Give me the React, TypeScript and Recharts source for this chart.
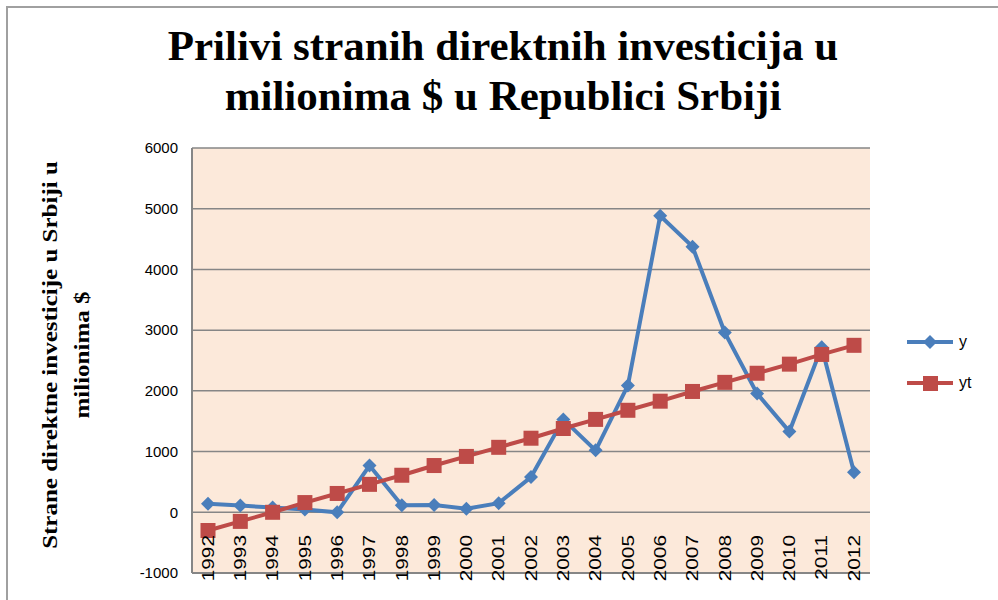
import { CartesianGrid, Line, LineChart, XAxis, YAxis } from "recharts"

const years = [
  "1992", "1993", "1994", "1995", "1996", "1997", "1998", "1999", "2000", "2001", "2002",
  "2003", "2004", "2005", "2006", "2007", "2008", "2009", "2010", "2011", "2012",
]

// stvarni prilivi
const yValues = [
  140, 110, 80, 45, 0, 770, 115, 120, 60, 150, 580,
  1530, 1020, 2090, 4885, 4375, 2960, 1955, 1330, 2720, 660,
]

// linearni trend
const ytValues = [
  -300, -150, 0, 160, 310, 460, 610, 770, 920, 1070, 1220,
  1380, 1530, 1680, 1830, 1990, 2140, 2290, 2440, 2600, 2750,
]

const yTicks = [-1000, 0, 1000, 2000, 3000, 4000, 5000, 6000]

const data = years.map((year, i) => ({ year, y: yValues[i], yt: ytValues[i] }))

const BLUE = "#4A7EBB"
const RED = "#BE4B48"

const Diamond = (props: any) => {
  const { cx, cy, index } = props
  if (cx == null || cy == null) return null
  const r = 7
  return (
    <polygon
      key={`d-${index}`}
      points={`${cx},${cy - r} ${cx + r},${cy} ${cx},${cy + r} ${cx - r},${cy}`}
      fill={BLUE}
    />
  )
}

const Square = (props: any) => {
  const { cx, cy, index } = props
  if (cx == null || cy == null) return null
  const s = 15
  return <rect key={`s-${index}`} x={cx - s / 2} y={cy - s / 2} width={s} height={s} fill={RED} />
}

// oznake godina stoje odmah ispod nulte linije, kao u Excelu
const YearTick = (props: any) => {
  const { x, y, payload } = props
  return (
    <text
      transform={`translate(${x},${y - 40}) rotate(-90) scale(1.3,1)`}
      textAnchor="end"
      dy="0.36em"
      fontSize={16}
      fontFamily="Liberation Sans, Arial, sans-serif"
      fill="#000"
    >
      {payload.value}
    </text>
  )
}

const LegendBox = () => (
  <div
    style={{
      position: "absolute",
      left: 905,
      top: 321,
      fontFamily: "Liberation Sans, Arial, sans-serif",
      fontSize: 16,
      color: "#000",
    }}
  >
    <div style={{ display: "flex", alignItems: "center", height: 41 }}>
      <svg width={50} height={20}>
        <line x1={2} y1={10} x2={48} y2={10} stroke={BLUE} strokeWidth={4} />
        <polygon points="25,3 32,10 25,17 18,10" fill={BLUE} />
      </svg>
      <span style={{ marginLeft: 4 }}>y</span>
    </div>
    <div style={{ display: "flex", alignItems: "center", height: 41 }}>
      <svg width={50} height={20}>
        <line x1={2} y1={10} x2={48} y2={10} stroke={RED} strokeWidth={4} />
        <rect x={18} y={3} width={15} height={15} fill={RED} />
      </svg>
      <span style={{ marginLeft: 4 }}>yt</span>
    </div>
  </div>
)

export default function App() {
  return (
    <div style={{ position: "absolute", left: 0, top: 0, width: 998, height: 600, overflow: "hidden", background: "#fff" }}>
      <div
        style={{
          position: "absolute",
          left: 6,
          top: 6,
          width: 1000,
          height: 700,
          borderTop: "2px solid #a0a0a0",
          borderLeft: "2px solid #a0a0a0",
        }}
      />
      <div
        style={{
          position: "absolute",
          left: 4,
          top: 21,
          width: 998,
          textAlign: "center",
          fontFamily: "Liberation Serif, Times New Roman, serif",
          fontWeight: "bold",
          fontSize: 43,
          lineHeight: "50px",
          color: "#000",
        }}
      >
        Prilivi stranih direktnih investicija u
        <br />
        milionima $ u Republici Srbiji
      </div>
      <div style={{ position: "absolute", left: 66, top: 355, width: 0, height: 0 }}>
        <div
          style={{
            position: "absolute",
            transform: "translate(-50%, -50%) rotate(-90deg) scaleX(1.25)",
            whiteSpace: "nowrap",
            textAlign: "center",
            fontFamily: "Liberation Serif, Times New Roman, serif",
            fontWeight: "bold",
            fontSize: 20,
            lineHeight: "32px",
            color: "#000",
          }}
        >
          Strane direktne investicije u Srbiji u
          <br />
          milionima $
        </div>
      </div>
      <LineChart width={998} height={600} data={data} margin={{ top: 148, right: 128, left: 0, bottom: 0 }}>
        <CartesianGrid vertical={false} stroke="#868686" strokeWidth={1.5} fill="#FCE9DA" fillOpacity={1} />
        <XAxis
          dataKey="year"
          interval={0}
          height={27}
          padding={{ left: 16, right: 16 }}
          tick={<YearTick />}
          tickLine={false}
          tickSize={0}
          axisLine={{ stroke: "#868686", strokeWidth: 2 }}
        />
        <YAxis
          domain={[-1000, 6000]}
          ticks={yTicks}
          width={192}
          tickLine={false}
          tickSize={0}
          tickMargin={14}
          axisLine={{ stroke: "#868686", strokeWidth: 2 }}
          tick={{ fill: "#000", fontSize: 15, fontFamily: "Liberation Sans, Arial, sans-serif" }}
        />
        <Line dataKey="y" stroke={BLUE} strokeWidth={4} dot={<Diamond />} isAnimationActive={false} />
        <Line dataKey="yt" stroke={RED} strokeWidth={4} dot={<Square />} isAnimationActive={false} />
      </LineChart>
      <LegendBox />
    </div>
  )
}
